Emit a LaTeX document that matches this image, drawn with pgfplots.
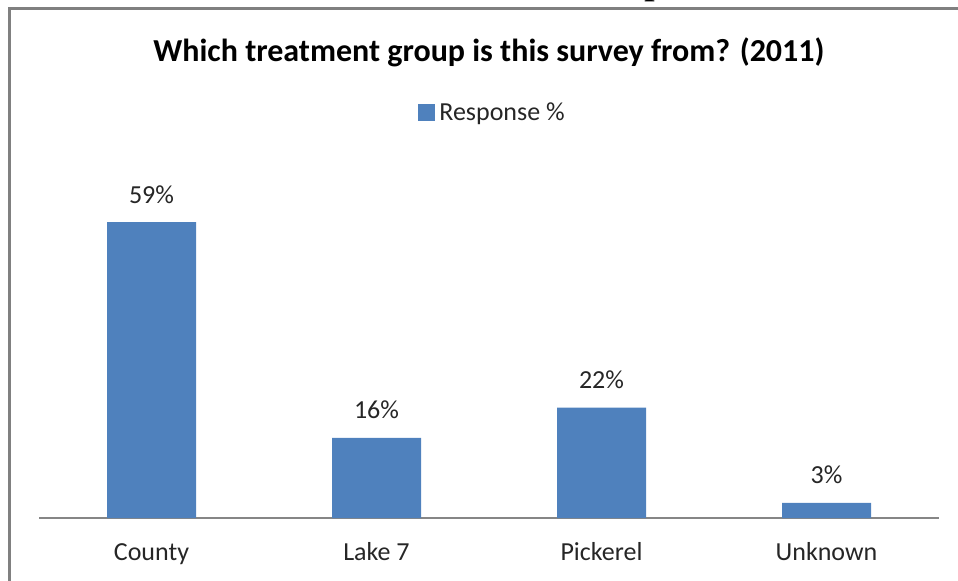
\documentclass[border=0pt]{standalone}
\usepackage{pgfplots}
\pgfplotsset{compat=1.18}
\usepackage{fontspec}
\setmainfont{Carlito}
\newfontfamily\seriffont{Liberation Serif}
\definecolor{barblue}{HTML}{4F81BD}
\definecolor{axisgray}{HTML}{868686}
\definecolor{framegray}{HTML}{808080}
\begin{document}
\begin{tikzpicture}[x=0.5pt,y=0.5pt]
\useasboundingbox (0,0) rectangle (958,580);
\begin{scope}
\clip (0,0) rectangle (958,580);
\draw[framegray, line width=1.5pt] (9,-20) -- (9,571) -- (990,571);
\node[font=\seriffont\fontsize{22}{22}\selectfont, anchor=base, inner sep=0pt] at (655,588) {p};
\end{scope}
\node[font=\bfseries\fontsize{16}{19}\selectfont] at (489,528) {Which treatment group is this survey from? (2011)};
\begin{axis}[
  at={(19.5pt,31pt)}, anchor=south west,
  scale only axis, width=450pt, height=175.5pt,
  xmin=-0.5, xmax=3.5, ymin=0, ymax=70,
  axis x line=bottom, axis y line=none,
  x axis line style={-, draw=axisgray, line width=0.6pt},
  major tick length=0pt,
  xtick={0,1,2,3},
  xticklabels={County,Lake 7,Pickerel,Unknown},
  xticklabel style={font=\fontsize{13}{13}\selectfont, anchor=base, yshift=-21pt, text=black!85},
  ybar, bar width=44.5pt,
  nodes near coords={\pgfmathprintnumber[assume math mode=true]{\pgfplotspointmeta}\%},
  nodes near coords style={font=\fontsize{13}{13}\selectfont, anchor=base, yshift=9.5pt, inner sep=0pt, text=black!85},
  legend style={at={(0.505,1.154)}, anchor=center, draw=none, fill=none, font=\fontsize{13}{13}\selectfont, inner sep=0pt, text=black!85},
  legend image code/.code={\fill[barblue] (0pt,-4pt) rectangle (8.5pt,4.5pt);},
  clip=false,
]
\addplot[fill=barblue, draw=none] coordinates {(0,59) (1,16) (2,22) (3,3)};
\addlegendentry{Response \%}
\end{axis}
\end{tikzpicture}
\end{document}
